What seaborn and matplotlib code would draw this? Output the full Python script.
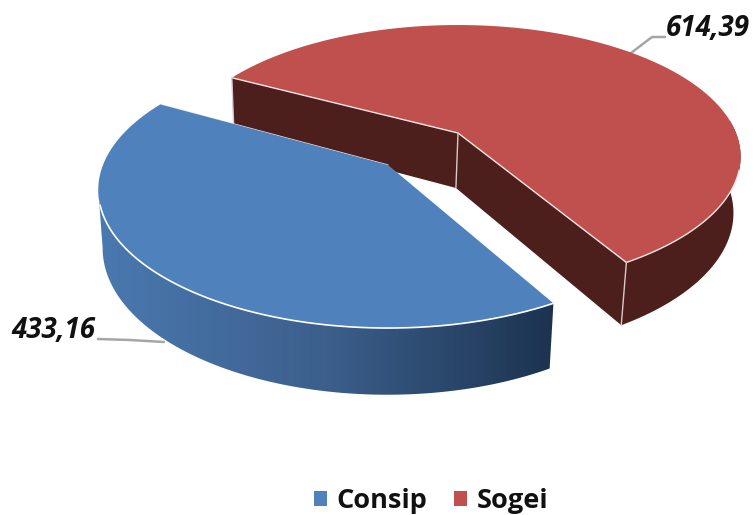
import numpy as np
import matplotlib
matplotlib.use("Agg")
import matplotlib.pyplot as plt
from matplotlib.patches import Polygon, Patch
import seaborn as sns

categories = ["Consip", "Sogei"]
values = [433.16, 614.39]
labels = ["433,16", "614,39"]

TOP = {"Consip": "#4f81bd", "Sogei": "#c0504d"}
RED_SIDE = "#4d1f1c"

sns.set_theme(style="white")
plt.rcParams["font.family"] = ["Open Sans", "DejaVu Sans"]

fig = plt.figure(figsize=(7.54, 5.15), dpi=100)
ax = fig.add_axes([0, 0, 1, 1])
ax.set_xlim(0, 754)
ax.set_ylim(515, 0)
ax.axis("off")

BLUE_START = 60.7   # screen angle where the Consip slice begins
RED_SHIFT = -1.5    # extra rotation of the exploded Sogei slice
K = 0.18            # perspective strength
VX = 342.0          # vanishing x of the extrusion
SHRINK = 0.982


def project(tip, radius, ry, t):
    X, Y = np.cos(t), np.sin(t)
    s = 1.0 / (1.0 - K * Y)
    return np.column_stack([tip[0] + radius * X * s, tip[1] + ry * Y * s])


def lower(pts):
    pts = np.atleast_2d(pts)
    x = VX + SHRINK * (pts[:, 0] - VX)
    y = pts[:, 1] + 53 + 0.06 * (pts[:, 1] - 100)
    return np.column_stack([x, y])


total = sum(values)
sweeps = [v / total * 2 * np.pi for v in values]
a0 = np.deg2rad(BLUE_START)
blue_t = np.linspace(a0, a0 + sweeps[0], 240)
r0 = a0 + sweeps[0] + np.deg2rad(RED_SHIFT)
red_t = np.linspace(r0, r0 + sweeps[1], 320)

blue_tip = np.array([388.0, 165.0])
red_tip = np.array([458.0, 133.0])
blue_arc = project(blue_tip, 285.0, 133.7, blue_t)
red_arc = project(red_tip, 278.0, 127.4, red_t)

# --- Sogei: walls, outer side, top
rt = red_tip[None, :]
back = np.vstack([red_arc[0:1], rt, lower(rt), lower(red_arc[0:1])])
front = np.vstack([rt, red_arc[-1:], lower(red_arc[-1:]), lower(rt)])
vis = red_arc[:, 1] > 120
side = np.vstack([red_arc[vis], lower(red_arc[vis])[::-1]])
for poly in (side, back, front):
    ax.add_patch(Polygon(poly, closed=True, fc=RED_SIDE, ec="none", zorder=1))
ax.add_patch(Polygon(np.vstack([rt, red_arc]), closed=True, fc=TOP["Sogei"], ec="none", zorder=2))
ax.plot(*np.vstack([red_arc[0:1], rt, red_arc[-1:]]).T, color="#f2e6e5", lw=1.0, zorder=3)
ax.plot(*red_arc[red_arc[:, 1] > 170].T, color="#f2e6e5", lw=1.0, zorder=3)
for p in (rt, red_arc[-1:], red_arc[0:1]):
    ax.plot(*np.vstack([p, lower(p)]).T, color="#d8c8c8", lw=1.0, zorder=3)

# --- Consip: shaded outer side, top
blue_low = lower(blue_arc)
xmin, xmax = blue_arc[:, 0].min(), blue_arc[:, 0].max()
left = int(np.argmin(blue_arc[:, 0])) + 1
side_poly = Polygon(np.vstack([blue_arc[:left], blue_low[:left][::-1]]), closed=True,
                    fc="none", ec="none", transform=ax.transData, zorder=4)
ax.add_patch(side_poly)
shades = np.array(sns.blend_palette(["#4a79b0", "#3c5f8c", "#1c3350"], n_colors=512))
im = ax.imshow(shades[None, :, :], extent=[xmin, xmax, 515, 0], aspect="auto", zorder=4,
               interpolation="bilinear")
im.set_clip_path(side_poly)
ax.set_xlim(0, 754)
ax.set_ylim(515, 0)
bt = blue_tip[None, :]
ax.add_patch(Polygon(np.vstack([bt, blue_arc]), closed=True, fc=TOP["Consip"], ec="none", zorder=5))
ax.plot(*blue_arc[blue_arc[:, 1] > 205].T, color="white", lw=1.2, zorder=6)
ax.plot(*np.vstack([bt, blue_arc[-1:]]).T, color="#efe8e8", lw=0.9, zorder=3.5)

# --- Labels with leader lines
ax.plot([98, 130, 164], [339, 340, 342], color="#a6a6a6", lw=1.8, zorder=0.5)
ax.plot([631, 652, 665], [53, 37, 37], color="#a6a6a6", lw=1.8, zorder=0.5)
ax.text(11, 338, labels[0], fontsize=20, fontweight="bold", fontstyle="italic",
        color="#111111", ha="left", va="baseline")
ax.text(666, 36, labels[1], fontsize=20, fontweight="bold", fontstyle="italic",
        color="#111111", ha="left", va="baseline")

# --- Legend
handles = [Patch(fc=TOP[c], ec="none", label=c) for c in categories]
fig.legend(handles=handles, loc="center", bbox_to_anchor=(431 / 754, 1 - 501 / 515),
           ncol=2, frameon=False, prop={"family": "Open Sans", "weight": "bold", "size": 19.5},
           handlelength=0.48, handleheight=0.48, handletextpad=0.35, columnspacing=1.0,
           labelcolor="#111111")

fig.savefig("out.png", dpi=100)
